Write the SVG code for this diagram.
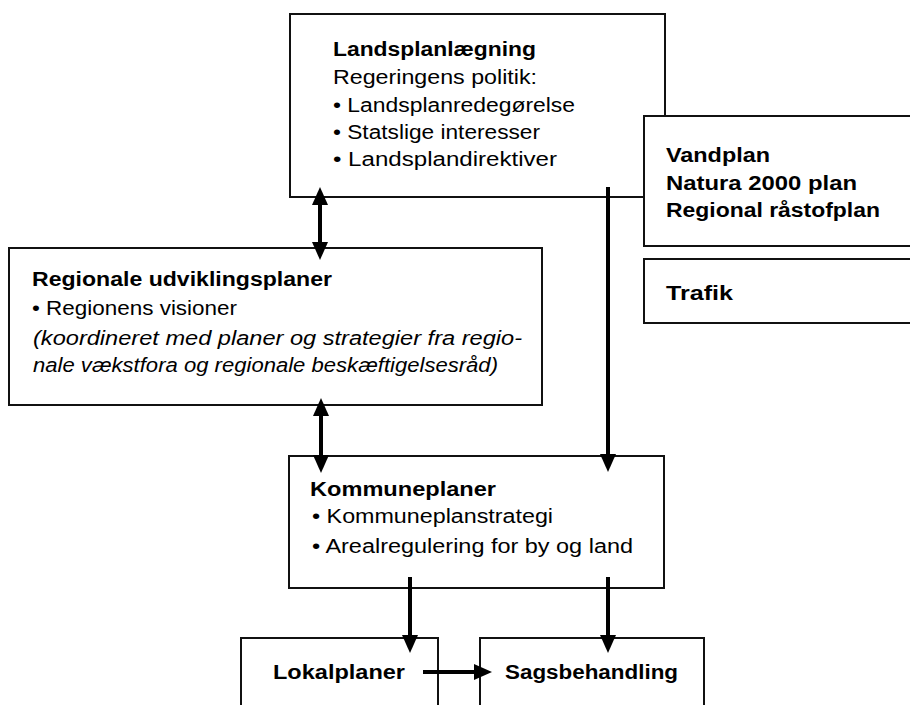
<svg xmlns="http://www.w3.org/2000/svg" width="910" height="705" viewBox="0 0 910 705">
<style>
.box{fill:#fff;stroke:#111;stroke-width:2}
text{font-family:"Liberation Sans",Arial,sans-serif;font-size:20px;fill:#000}
.b{font-weight:bold}
.i{font-style:italic}
.arr{stroke:#000;stroke-width:4;fill:none}
</style>
<defs>
<marker id="ah" viewBox="0 0 18 16" refX="0" refY="8" markerWidth="18" markerHeight="16" markerUnits="userSpaceOnUse" orient="auto-start-reverse">
<path d="M0,0 L18,8 L0,16 z" fill="#000"/>
</marker>
</defs>
<rect width="910" height="705" fill="#fff"/>
<g id="landsplan">
<rect class="box" x="290" y="14" width="375" height="183"/>
<text class="b" x="333" y="56" textLength="203" lengthAdjust="spacingAndGlyphs">Landsplanlægning</text>
<text x="333" y="84" textLength="204" lengthAdjust="spacingAndGlyphs">Regeringens politik:</text>
<text x="333" y="112" textLength="242" lengthAdjust="spacingAndGlyphs">• Landsplanredegørelse</text>
<text x="333" y="139" textLength="207" lengthAdjust="spacingAndGlyphs">• Statslige interesser</text>
<text x="333" y="166" textLength="224" lengthAdjust="spacingAndGlyphs">• Landsplandirektiver</text>
</g>
<g id="vandplan">
<rect class="box" x="644" y="116" width="280" height="130"/>
<text class="b" x="666" y="162" textLength="104" lengthAdjust="spacingAndGlyphs">Vandplan</text>
<text class="b" x="666" y="190" textLength="191" lengthAdjust="spacingAndGlyphs">Natura 2000 plan</text>
<text class="b" x="666" y="217" textLength="214" lengthAdjust="spacingAndGlyphs">Regional råstofplan</text>
</g>
<g id="trafik">
<rect class="box" x="644" y="259" width="280" height="64"/>
<text class="b" x="666" y="300" textLength="67" lengthAdjust="spacingAndGlyphs">Trafik</text>
</g>
<g id="regional">
<rect class="box" x="9" y="248" width="533" height="157"/>
<text class="b" x="32" y="286" textLength="300" lengthAdjust="spacingAndGlyphs">Regionale udviklingsplaner</text>
<text x="32" y="315" textLength="205" lengthAdjust="spacingAndGlyphs">• Regionens visioner</text>
<text class="i" x="33" y="345" textLength="489" lengthAdjust="spacingAndGlyphs">(koordineret med planer og strategier fra regio-</text>
<text class="i" x="33" y="372" textLength="465" lengthAdjust="spacingAndGlyphs">nale vækstfora og regionale beskæftigelsesråd)</text>
</g>
<g id="kommune">
<rect class="box" x="289" y="456" width="375" height="132"/>
<text class="b" x="310" y="496" textLength="186" lengthAdjust="spacingAndGlyphs">Kommuneplaner</text>
<text x="312" y="523" textLength="241" lengthAdjust="spacingAndGlyphs">• Kommuneplanstrategi</text>
<text x="312" y="553" textLength="321" lengthAdjust="spacingAndGlyphs">• Arealregulering for by og land</text>
</g>
<g id="lokal">
<rect class="box" x="241" y="638" width="197" height="90"/>
<text class="b" x="273" y="679" textLength="132" lengthAdjust="spacingAndGlyphs">Lokalplaner</text>
</g>
<g id="sags">
<rect class="box" x="480" y="638" width="224" height="90"/>
<text class="b" x="505" y="679" textLength="173" lengthAdjust="spacingAndGlyphs">Sagsbehandling</text>
</g>
<g id="connectors">
<line class="arr" x1="320" y1="205" x2="320" y2="242" marker-start="url(#ah)" marker-end="url(#ah)"/>
<line class="arr" x1="321" y1="416" x2="321" y2="455" marker-start="url(#ah)" marker-end="url(#ah)"/>
<line class="arr" x1="608" y1="187" x2="608" y2="454" marker-end="url(#ah)"/>
<line class="arr" x1="410" y1="577" x2="410" y2="635" marker-end="url(#ah)"/>
<line class="arr" x1="608" y1="577" x2="608" y2="635" marker-end="url(#ah)"/>
<line class="arr" x1="423" y1="672" x2="474" y2="672" marker-end="url(#ah)"/>
</g>
</svg>
